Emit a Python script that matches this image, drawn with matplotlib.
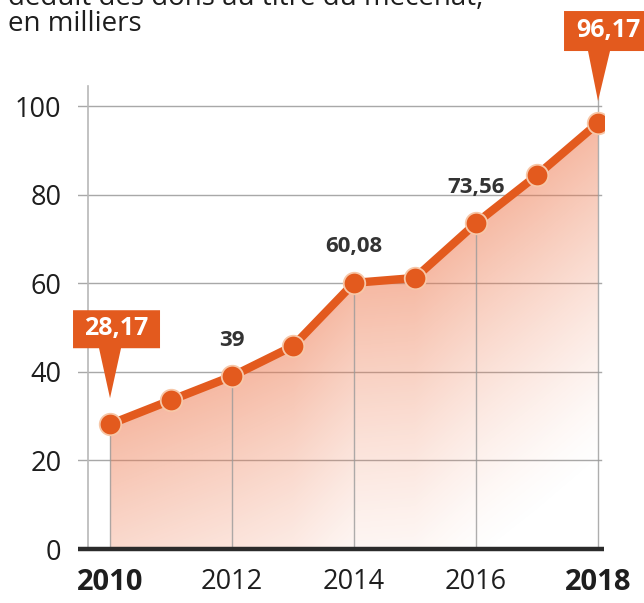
import numpy as np
import matplotlib
matplotlib.use("Agg")
import matplotlib.pyplot as plt
import matplotlib.transforms as mtransforms
from matplotlib.patches import Polygon

plt.rcParams['font.family'] = ['Open Sans', 'DejaVu Sans']

years = [2010, 2011, 2012, 2013, 2014, 2015, 2016, 2017, 2018]
values = [28.17, 33.6, 39.0, 45.8, 60.08, 61.2, 73.56, 84.4, 96.17]
label_years = [2012, 2014, 2016]
label_texts = ["39", "60,08", "73,56"]
callout_years = [2010, 2018]
callout_texts = ["28,17", "96,17"]
yticks = [0, 20, 40, 60, 80, 100]
xticks = [2010, 2012, 2014, 2016, 2018]
title_line1 = "déduit des dons au titre du mécénat,"
title_line2 = "en milliers"

ORANGE = "#E35A1E"
DARK = "#2b2b2b"
GRID = "#a8a8a8"

W, H = 644, 603
fig = plt.figure(figsize=(W / 100, H / 100), dpi=100)
ax = fig.add_axes([78 / W, (H - 549) / H, (604 - 78) / W, (549 - 60) / H])
XL = (2009.475, 2018.098)
YL = (0, 110.4)
for s in ax.spines.values():
    s.set_visible(False)

# gridlines
for yv in yticks[1:]:
    ax.plot([XL[0], 2018.05], [yv, yv], color=GRID, lw=1.0, zorder=1)
ax.plot([2009.64, 2009.64], [0, 104.5], color="#b8b8b8", lw=1.2, zorder=1)

# gradient fill under the line
xs = np.linspace(years[0], years[-1], 400)
ys = np.linspace(0, 100, 300)
X, Y = np.meshgrid(xs, ys)
line = np.interp(X, years, values)
alpha = 0.52 * np.clip(1 - (line - Y) / 78.0, 0, 1) ** 1.4
rgba = np.zeros(X.shape + (4,))
rgba[..., :3] = np.array([0.93, 0.47, 0.30])
rgba[..., 3] = alpha
im = ax.imshow(rgba, extent=[years[0], years[-1], 0, 100], origin="lower",
               aspect="auto", zorder=2, interpolation="bilinear")
poly = ax.fill_between(years, values, 0, color="none", lw=0)
im.set_clip_path(poly.get_paths()[0], transform=ax.transData)
ax.set_xlim(*XL)
ax.set_ylim(*YL)

# vertical lines at even years
for xv in xticks:
    v = np.interp(xv, years, values)
    top = v if xv != years[-1] else 104.5
    ax.plot([xv, xv], [0, top], color="#9a9a9a", lw=1.0, alpha=0.8, zorder=3)

# axis baseline
ax.plot([XL[0], XL[1]], [0, 0], color=DARK, lw=3.2, zorder=4,
        solid_capstyle="butt", clip_on=False)

# line + markers
ax.plot(years, values, color=ORANGE, lw=6, zorder=5, solid_capstyle="round")
ax.plot(years, values, 'o', ms=15.5, mfc=ORANGE, mec="#f7c7a8", mew=1.3, zorder=6)

# ticks
ax.set_yticks(yticks)
ax.set_yticklabels([str(v) for v in yticks], fontsize=19.5, color="#1e1e1e")
ax.set_xticks(xticks)
ax.set_xticklabels([str(v) for v in xticks], fontsize=19.5, color="#1e1e1e")
ax.tick_params(axis="both", length=0)
ax.tick_params(axis="y", pad=12)
ax.tick_params(axis="x", pad=14)
for lab in ax.get_xticklabels():
    if lab.get_text() in ("2010", "2018"):
        lab.set_fontweight("bold")
        lab.set_fontsize(21)

# value labels
for xv, t in zip(label_years, label_texts):
    v = np.interp(xv, years, values)
    ax.annotate(t, (xv, v), xytext=(0, 36), textcoords="offset pixels",
                ha="center", va="center", fontsize=16, fontweight="bold",
                color="#333333", zorder=7)

# callouts (offsets in pixels relative to the data point)
callout_shapes = {
    2010: dict(box=(-37, 50, 76, 114), tri=(-11, 11, 26), text_dx=6),
    2018: dict(box=(-34, 56, 72, 112), tri=(-10, 12, 22), text_dx=10),
}
for xv, t in zip(callout_years, callout_texts):
    v = np.interp(xv, years, values)
    tr = mtransforms.Affine2D() + mtransforms.ScaledTranslation(xv, v, ax.transData)
    sh = callout_shapes[xv]
    x0, x1, y0, y1 = sh["box"]
    bl, br, tip = sh["tri"]
    verts = [(x0, y0), (bl, y0), (0, tip), (br, y0), (x1, y0), (x1, y1), (x0, y1)]
    p = Polygon(verts, closed=True, facecolor=ORANGE, edgecolor="none",
                transform=tr, clip_on=False, zorder=8)
    ax.add_patch(p)
    ax.annotate(t, (xv, v), xytext=(sh["text_dx"], (y0 + y1) / 2 + 1),
                textcoords="offset pixels", ha="center", va="center",
                fontsize=18, fontweight="bold", color="white", zorder=9,
                annotation_clip=False)

# title (top line cut off by the figure edge, as in the source)
fig.text(8 / W, 1 - 5 / H, title_line1, fontsize=20, color="#1e1e1e",
         ha="left", va="baseline")
fig.text(8 / W, 1 - 31 / H, title_line2, fontsize=20, color="#1e1e1e",
         ha="left", va="baseline")

fig.savefig("out.png", dpi=100)
